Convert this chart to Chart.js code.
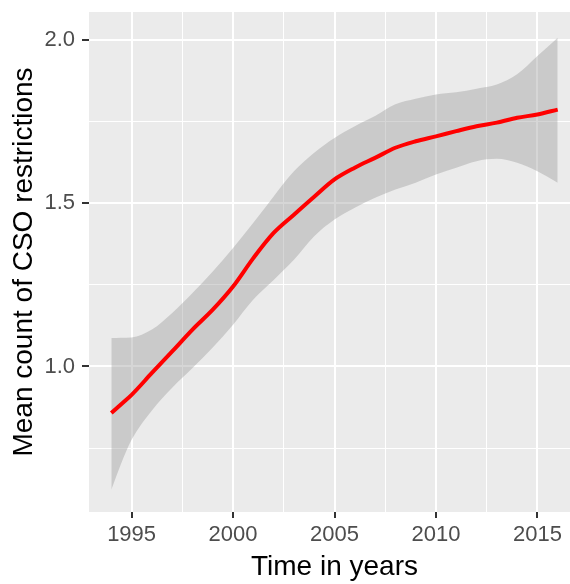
<!DOCTYPE html>
<html>
<head>
<meta charset="utf-8">
<script src="https://cdn.jsdelivr.net/npm/chart.js@4.4.0/dist/chart.umd.min.js"></script>
<style>
    html, body { margin: 0; padding: 0; background: #ffffff; overflow: hidden; }
    #chart { display: block; }
</style>
</head>
<body>
<canvas id="chart" width="580" height="584"></canvas>
<script>
// Loess fit of CSO restrictions over time, with confidence band

const years = [1994, 1994.5, 1995, 1996, 1997, 1998, 1999, 2000, 2001, 2002, 2003, 2004,
    2005, 2006, 2007, 2008, 2009, 2010, 2011, 2012, 2013, 2014, 2015, 2016];
const meanCount = [0.857, 0.885, 0.913, 0.980, 1.046, 1.113, 1.174, 1.245, 1.332, 1.409, 1.465, 1.520,
    1.573, 1.609, 1.639, 1.670, 1.690, 1.705, 1.721, 1.736, 1.747, 1.762, 1.772, 1.787];
const upperBand = [1.087, 1.088, 1.089, 1.113, 1.164, 1.225, 1.291, 1.363, 1.440, 1.521, 1.598, 1.655,
    1.700, 1.736, 1.767, 1.803, 1.820, 1.833, 1.840, 1.851, 1.864, 1.895, 1.951, 2.007];
const lowerBand = [0.622, 0.705, 0.775, 0.865, 0.935, 0.995, 1.058, 1.128, 1.205, 1.265, 1.327, 1.399,
    1.450, 1.486, 1.517, 1.542, 1.563, 1.588, 1.609, 1.629, 1.636, 1.624, 1.598, 1.563];

const xMajor = [1995, 2000, 2005, 2010, 2015];
const xMinor = [1997.5, 2002.5, 2007.5, 2012.5];
const yMajor = [1.0, 1.5, 2.0];
const yMinor = [0.75, 1.25, 1.75];

const toPoints = values => years.map((y, i) => ({ x: y, y: values[i] }));
const isMajor = (list, v) => list.some(m => Math.abs(m - v) < 1e-6);

const panelBackground = {
    id: 'panelBackground',
    beforeDraw(chart) {
        const { ctx, chartArea } = chart;
        ctx.save();
        ctx.fillStyle = '#EBEBEB';
        ctx.fillRect(chartArea.left, chartArea.top, chartArea.right - chartArea.left, chartArea.bottom - chartArea.top);
        ctx.restore();
    }
};

const tickFont = { family: '"Liberation Sans", Arial, sans-serif', size: 22 };
const titleFont = { family: '"Liberation Sans", Arial, sans-serif', size: 28 };

const ctx = document.getElementById('chart').getContext('2d');
new Chart(ctx, {
    type: 'line',
    data: {
        datasets: [{
            label: 'Mean',
            data: toPoints(meanCount),
            borderColor: '#FF0000',
            borderWidth: 4,
            pointRadius: 0,
            fill: false,
            cubicInterpolationMode: 'monotone'
        }, {
            label: 'Lower',
            data: toPoints(lowerBand),
            borderColor: 'rgba(0,0,0,0)',
            borderWidth: 0,
            pointRadius: 0,
            fill: false,
            cubicInterpolationMode: 'monotone'
        }, {
            label: 'Upper',
            data: toPoints(upperBand),
            borderColor: 'rgba(0,0,0,0)',
            borderWidth: 0,
            pointRadius: 0,
            backgroundColor: 'rgba(153,153,153,0.4)',
            fill: '-1',
            cubicInterpolationMode: 'monotone'
        }]
    },
    options: {
        responsive: false,
        animation: false,
        events: [],
        layout: { padding: { top: 12, left: 0, right: 0, bottom: 0 } },
        scales: {
            x: {
                type: 'linear',
                min: 1992.9,
                max: 2017.1,
                afterBuildTicks: scale => {
                    scale.ticks = xMajor.concat(xMinor).sort((a, b) => a - b).map(v => ({ value: v }));
                },
                afterFit: scale => {
                    scale.height = 72;
                    scale.paddingLeft = 0;
                    scale.paddingRight = 0;
                },
                ticks: {
                    autoSkip: false,
                    maxRotation: 0,
                    padding: 4,
                    color: '#4D4D4D',
                    font: tickFont,
                    callback: value => isMajor(xMajor, value) ? String(value) : ''
                },
                grid: {
                    color: '#FFFFFF',
                    lineWidth: c => (c.tick && isMajor(xMajor, c.tick.value)) ? 2 : 1,
                    tickLength: 6,
                    tickWidth: 2,
                    tickColor: c => (c.tick && isMajor(xMajor, c.tick.value)) ? '#333333' : 'rgba(0,0,0,0)'
                },
                border: { display: false },
                title: {
                    display: true,
                    text: 'Time in years',
                    color: '#000000',
                    font: titleFont,
                    padding: { top: 0, bottom: 0 }
                }
            },
            y: {
                type: 'linear',
                min: 0.554,
                max: 2.086,
                afterBuildTicks: scale => {
                    scale.ticks = yMajor.concat(yMinor).sort((a, b) => a - b).map(v => ({ value: v }));
                },
                afterFit: scale => {
                    scale.width = 89;
                    scale.paddingTop = 0;
                    scale.paddingBottom = 0;
                },
                ticks: {
                    padding: 7,
                    color: '#4D4D4D',
                    font: tickFont,
                    callback: value => isMajor(yMajor, value) ? value.toFixed(1) : ''
                },
                grid: {
                    color: '#FFFFFF',
                    lineWidth: c => (c.tick && isMajor(yMajor, c.tick.value)) ? 2 : 1,
                    tickLength: 7,
                    tickWidth: 2,
                    tickColor: c => (c.tick && isMajor(yMajor, c.tick.value)) ? '#333333' : 'rgba(0,0,0,0)'
                },
                border: { display: false },
                title: {
                    display: true,
                    text: 'Mean count of CSO restrictions',
                    color: '#000000',
                    font: titleFont,
                    padding: { top: 7, bottom: 0 }
                }
            }
        },
        plugins: {
            legend: { display: false },
            tooltip: { enabled: false }
        }
    },
    plugins: [panelBackground]
});
</script>
</body>
</html>
